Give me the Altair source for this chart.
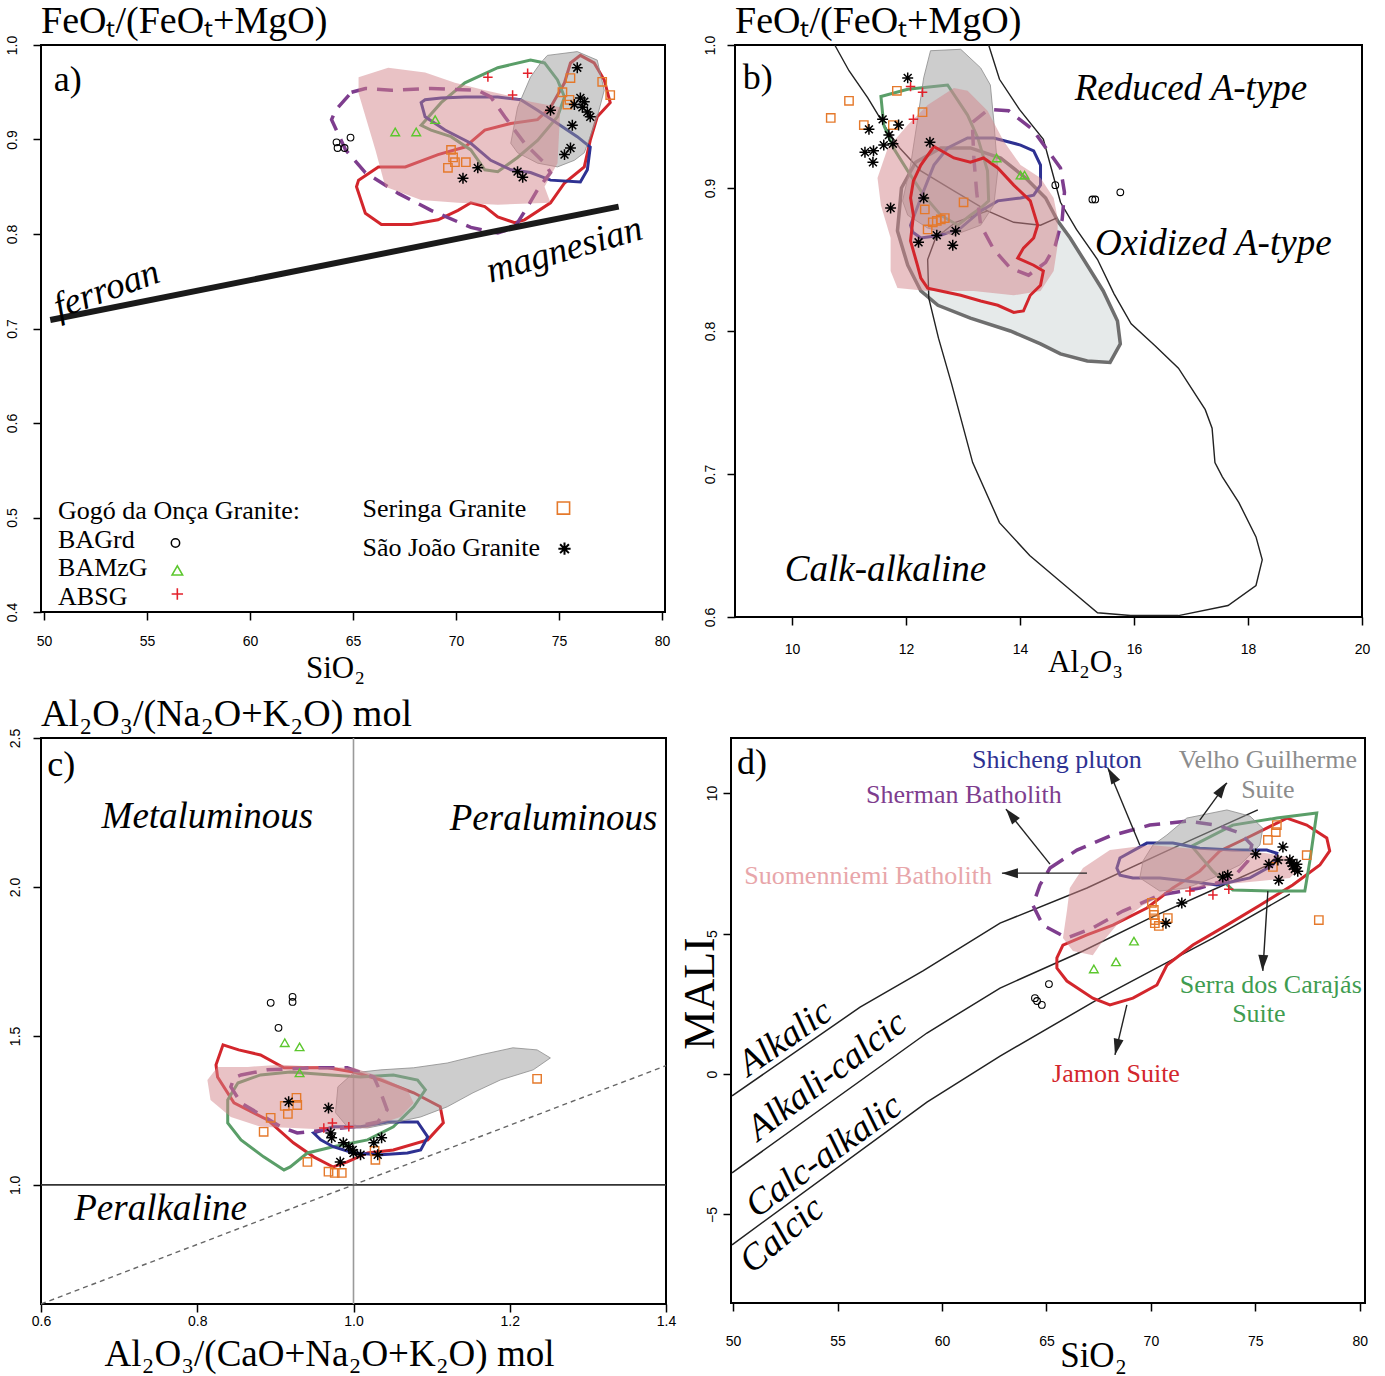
import altair as alt
import pandas as pd

SERIF = "Liberation Serif"
SANS = "Liberation Sans"

RED = "#d3262c"
GREEN = "#5a9e68"
BLUE = "#2e3192"
PURPLE = "#7e3d8e"
PINK = "#d4868c"
GRAYF = "#9c9c9c"
ORANGE = "#e5792b"
LIME = "#5cc72e"
CROSSRED = "#e3212b"

ASTER = "M0,-1L0,1M-1,0L1,0M-0.72,-0.72L0.72,0.72M-0.72,0.72L0.72,-0.72"
PLUS = "M-1,0L1,0M0,-1L0,1"
HEAD = "M0,-1L0.62,1L-0.62,1Z"

# ---------------- panel a : FeOt/(FeOt+MgO) vs SiO2 ----------------
A_PINK_X = [65.27, 66.71, 68.50, 69.95, 71.40, 72.85, 73.62, 75.07, 74.93, 74.30, 74.59, 72.03, 70.10, 68.31, 66.57, 66.09, 65.27]
A_PINK_Y = [0.966, 0.976, 0.971, 0.960, 0.952, 0.945, 0.940, 0.934, 0.875, 0.850, 0.833, 0.831, 0.833, 0.836, 0.850, 0.889, 0.949]
A_GRAY_X = [74.44, 75.89, 76.86, 77.20, 76.86, 76.52, 76.23, 75.75, 74.93, 73.96, 72.99, 72.66, 72.99, 73.62, 74.11]
A_GRAY_Y = [0.989, 0.993, 0.984, 0.952, 0.924, 0.903, 0.886, 0.878, 0.871, 0.875, 0.886, 0.896, 0.934, 0.966, 0.981]
A_RED_X = [65.27, 66.23, 67.54, 69.13, 70.43, 71.40, 72.66, 73.96, 74.59, 75.27, 75.56, 76.04, 76.71, 77.20, 77.49, 76.86,
           76.52, 76.23, 75.27, 74.59, 73.33, 72.85, 72.03, 71.40, 70.72, 70.10, 69.13, 67.83, 66.38, 65.60, 65.17]
A_RED_Y = [0.857, 0.871, 0.871, 0.884, 0.892, 0.910, 0.917, 0.921, 0.934, 0.960, 0.981, 0.989, 0.981, 0.963, 0.939, 0.924,
           0.899, 0.871, 0.854, 0.833, 0.815, 0.812, 0.818, 0.829, 0.833, 0.825, 0.815, 0.810, 0.810, 0.822, 0.850]
A_GREEN_X = [68.31, 69.28, 70.43, 72.03, 73.62, 74.30, 74.93, 75.27, 74.93, 73.96, 72.99, 72.03, 71.40, 70.72, 69.76, 68.79]
A_GREEN_Y = [0.915, 0.939, 0.960, 0.976, 0.984, 0.981, 0.963, 0.945, 0.924, 0.899, 0.881, 0.866, 0.868, 0.889, 0.903, 0.910]
A_BLUE_X = [68.31, 68.50, 69.47, 70.72, 71.69, 72.66, 73.62, 74.59, 76.04, 76.38, 76.52, 75.89, 74.93, 73.96, 73.14, 72.03, 70.43, 69.28, 68.50]
A_BLUE_Y = [0.939, 0.924, 0.910, 0.896, 0.878, 0.868, 0.865, 0.857, 0.855, 0.868, 0.892, 0.903, 0.917, 0.931, 0.942, 0.945, 0.945, 0.944, 0.942]
A_PURPLE_X = [64.93, 65.60, 66.86, 68.79, 71.06, 71.69, 72.37, 73.33, 74.30, 74.59, 73.96, 73.48, 72.85, 72.03, 70.72, 68.79, 67.20, 65.60, 64.64, 63.96, 64.15]
A_PURPLE_Y = [0.950, 0.954, 0.952, 0.954, 0.952, 0.945, 0.924, 0.896, 0.875, 0.865, 0.847, 0.829, 0.807, 0.801, 0.807, 0.825, 0.843, 0.865, 0.889, 0.921, 0.931]
A_FM_X = [50.3, 77.9]
A_FM_Y = [0.709, 0.829]
A_BAGRD_X = [64.20, 64.88, 64.59, 64.25]
A_BAGRD_Y = [0.897, 0.902, 0.891, 0.891]
A_BAMZG_X = [67.05, 68.07, 68.99]
A_BAMZG_Y = [0.908, 0.908, 0.921]
A_ABSG_X = [71.55, 73.48, 72.75]
A_ABSG_Y = [0.966, 0.970, 0.947]
A_SER_X = [69.76, 69.86, 69.95, 69.61, 70.48, 75.56, 75.17, 75.51, 75.41, 77.10, 77.49]
A_SER_Y = [0.889, 0.881, 0.876, 0.870, 0.876, 0.965, 0.950, 0.942, 0.937, 0.961, 0.947]
A_SJ_X = [75.89, 76.04, 76.23, 76.14, 76.38, 76.52, 75.75, 75.65, 75.27, 75.56, 74.59, 71.06, 70.34, 72.99, 73.24]
A_SJ_Y = [0.976, 0.944, 0.940, 0.934, 0.929, 0.924, 0.937, 0.915, 0.884, 0.891, 0.931, 0.870, 0.859, 0.866, 0.860]
A_LEG_TEXT = ["Gogó da Onça Granite:", "BAGrd", "BAMzG", "ABSG", "Seringa Granite", "São João Granite"]
A_LEG_TX = [50.68, 50.68, 50.68, 50.68, 65.46, 65.46]
A_LEG_TY = [0.507, 0.476, 0.447, 0.416, 0.509, 0.468]
A_LEG_SX = [56.38, 56.47, 56.47, 75.22, 75.27]
A_LEG_SY = [0.473, 0.444, 0.419, 0.510, 0.467]

# ---------------- panel b : FeOt/(FeOt+MgO) vs Al2O3 ----------------
B_LINE1_X = [10.75, 11.00, 11.33, 11.68, 11.89, 12.26, 12.84, 13.43, 13.89, 14.36, 14.64]
B_LINE1_Y = [1.0, 0.982, 0.963, 0.940, 0.928, 0.912, 0.898, 0.884, 0.876, 0.874, 0.879]
B_CALC_X = [13.45, 13.64, 13.99, 14.41, 14.52, 14.71, 14.99, 15.36, 15.65, 15.95, 16.36, 16.78, 17.25, 17.37, 17.42, 17.55, 17.84, 18.14,
            18.25, 18.14, 17.65, 16.78, 15.94, 15.36, 14.88, 14.17, 13.64, 13.17, 12.80, 12.57, 12.40, 12.38, 12.52, 12.87, 13.43]
B_CALC_Y = [1.0, 0.976, 0.955, 0.934, 0.918, 0.890, 0.871, 0.850, 0.826, 0.805, 0.790, 0.774, 0.745, 0.732, 0.708, 0.698, 0.680, 0.656,
            0.640, 0.622, 0.608, 0.601, 0.601, 0.603, 0.619, 0.643, 0.666, 0.708, 0.763, 0.795, 0.823, 0.850, 0.865, 0.876, 0.884]
B_LGRAY_X = [11.92, 12.17, 12.61, 13.13, 13.66, 14.10, 14.45, 14.66, 14.88, 15.18, 15.46, 15.71, 15.76, 15.58, 15.18, 14.71, 14.36, 13.83, 13.13, 12.56, 12.26, 12.03, 11.85]
B_LGRAY_Y = [0.900, 0.918, 0.928, 0.928, 0.921, 0.907, 0.893, 0.877, 0.865, 0.846, 0.828, 0.807, 0.791, 0.778, 0.779, 0.784, 0.791, 0.800, 0.809, 0.818, 0.828, 0.846, 0.870]
B_DGRAY_X = [12.43, 12.96, 13.31, 13.48, 13.54, 13.61, 13.54, 13.31, 12.84, 12.38, 12.03, 11.94, 12.08, 12.20, 12.31]
B_DGRAY_Y = [0.996, 0.997, 0.984, 0.972, 0.947, 0.912, 0.888, 0.874, 0.867, 0.872, 0.881, 0.891, 0.916, 0.947, 0.977]
B_PINK_X = [11.50, 11.68, 12.03, 12.38, 12.84, 13.08, 13.43, 13.71, 14.01, 14.36, 14.59, 14.66, 14.66, 14.59, 14.36, 13.89, 13.19, 12.38, 11.85, 11.73, 11.73, 11.56]
B_PINK_Y = [0.907, 0.928, 0.944, 0.958, 0.970, 0.968, 0.954, 0.933, 0.916, 0.907, 0.893, 0.879, 0.860, 0.842, 0.828, 0.825, 0.828, 0.828, 0.830, 0.842, 0.865, 0.888]
B_RED_X = [12.49, 12.84, 13.13, 13.36, 13.61, 13.89, 14.18, 14.31, 14.24, 14.06, 13.96, 14.24, 14.41, 14.36, 14.18, 14.06, 13.89, 13.61, 13.31,
           12.96, 12.61, 12.38, 12.26, 12.20, 12.08, 12.13, 12.08, 12.13, 12.26]
B_RED_Y = [0.929, 0.921, 0.918, 0.921, 0.914, 0.902, 0.891, 0.874, 0.865, 0.858, 0.851, 0.846, 0.842, 0.832, 0.825, 0.814, 0.813, 0.818, 0.821,
           0.825, 0.828, 0.830, 0.837, 0.846, 0.863, 0.881, 0.893, 0.905, 0.916]
B_GREEN_X = [11.56, 12.03, 12.73, 13.08, 13.26, 13.43, 13.45, 13.31, 13.13, 12.91, 12.61, 12.31, 12.03, 11.78, 11.61]
B_GREEN_Y = [0.964, 0.969, 0.972, 0.951, 0.935, 0.912, 0.891, 0.886, 0.881, 0.874, 0.881, 0.895, 0.912, 0.928, 0.944]
B_BLUE_X = [12.08, 12.26, 12.49, 12.73, 13.08, 13.54, 14.01, 14.24, 14.36, 14.36, 14.24, 14.01, 13.61, 13.31, 12.96, 12.61, 12.26, 12.12]
B_BLUE_Y = [0.874, 0.893, 0.916, 0.928, 0.935, 0.935, 0.930, 0.926, 0.916, 0.902, 0.895, 0.893, 0.891, 0.884, 0.872, 0.867, 0.865, 0.869]
B_PURPLE_X = [13.17, 13.45, 13.80, 14.22, 14.71, 14.78, 14.74, 14.62, 14.45, 14.15, 13.83, 13.54, 13.31, 13.24, 13.19, 13.17]
B_PURPLE_Y = [0.946, 0.955, 0.954, 0.941, 0.914, 0.897, 0.878, 0.860, 0.848, 0.839, 0.844, 0.857, 0.874, 0.897, 0.921, 0.939]
B_BAGRD_X = [14.62, 15.27, 15.32, 15.76]
B_BAGRD_Y = [0.902, 0.892, 0.892, 0.897]
B_BAMZG_X = [13.59, 14.01, 14.08]
B_BAMZG_Y = [0.921, 0.909, 0.909]
B_ABSG_X = [12.08, 12.29, 12.13]
B_ABSG_Y = [0.971, 0.967, 0.948]
B_SER_X = [10.68, 11.00, 11.26, 11.77, 11.84, 12.29, 13.01, 12.33, 12.38, 12.47, 12.54, 12.61, 12.68]
B_SER_Y = [0.949, 0.961, 0.944, 0.944, 0.968, 0.953, 0.890, 0.885, 0.871, 0.876, 0.877, 0.878, 0.879]
B_SJ_X = [12.03, 11.59, 11.87, 11.35, 11.70, 11.61, 11.77, 11.28, 11.43, 11.42, 12.42, 11.73, 12.31, 12.54, 12.22, 12.87, 12.82]
B_SJ_Y = [0.977, 0.948, 0.944, 0.941, 0.937, 0.930, 0.931, 0.925, 0.926, 0.918, 0.932, 0.886, 0.893, 0.867, 0.862, 0.870, 0.860]
B_TEXT = ["Reduced A-type", "Oxidized A-type", "Calk-alkaline"]
B_TX = [17.0, 17.39, 11.64]
B_TY = [0.969, 0.861, 0.633]

# ---------------- panel c : A/NK vs A/CNK ----------------
C_GRAY_X = [0.980, 1.000, 1.035, 1.077, 1.120, 1.162, 1.204, 1.235, 1.252, 1.230, 1.188, 1.153, 1.120, 1.086, 1.051, 1.018, 0.992, 0.977]
C_GRAY_Y = [1.329, 1.376, 1.386, 1.393, 1.409, 1.436, 1.460, 1.453, 1.426, 1.386, 1.352, 1.309, 1.262, 1.228, 1.208, 1.191, 1.195, 1.242]
C_PINK_X = [0.813, 0.826, 0.865, 0.907, 0.958, 1.000, 1.035, 1.069, 1.077, 1.060, 1.018, 0.971, 0.923, 0.881, 0.843, 0.817]
C_PINK_Y = [1.352, 1.396, 1.396, 1.403, 1.396, 1.393, 1.362, 1.319, 1.275, 1.228, 1.191, 1.185, 1.191, 1.195, 1.228, 1.285]
C_RED_X = [0.833, 0.853, 0.881, 0.911, 0.967, 1.000, 1.035, 1.077, 1.111, 1.115, 1.095, 1.051, 1.018, 0.992, 0.974, 0.949, 0.923, 0.890, 0.847, 0.826, 0.824]
C_RED_Y = [1.470, 1.453, 1.436, 1.393, 1.393, 1.379, 1.352, 1.309, 1.262, 1.208, 1.151, 1.117, 1.107, 1.077, 1.060, 1.094, 1.141, 1.218, 1.275, 1.362, 1.403]
C_GREEN_X = [0.852, 0.881, 0.919, 0.971, 1.009, 1.051, 1.082, 1.092, 1.077, 1.051, 1.018, 0.974, 0.941, 0.919, 0.911, 0.885, 0.856, 0.839, 0.839]
C_GREEN_Y = [1.342, 1.369, 1.379, 1.369, 1.362, 1.369, 1.352, 1.319, 1.262, 1.195, 1.151, 1.128, 1.107, 1.060, 1.050, 1.094, 1.151, 1.208, 1.285]
C_BLUE_X = [0.949, 0.974, 1.009, 1.043, 1.082, 1.095, 1.086, 1.069, 1.035, 1.000, 0.974, 0.958]
C_BLUE_Y = [1.174, 1.195, 1.195, 1.211, 1.211, 1.161, 1.117, 1.107, 1.101, 1.107, 1.128, 1.151]
C_PURPLE_X = [0.856, 0.890, 0.949, 0.992, 1.026, 1.035, 1.043, 1.031, 1.000, 0.967, 0.928, 0.907, 0.877, 0.856, 0.843, 0.847]
C_PURPLE_Y = [1.369, 1.386, 1.393, 1.393, 1.362, 1.309, 1.252, 1.211, 1.195, 1.185, 1.174, 1.195, 1.242, 1.275, 1.329, 1.359]
C_BAGRD_X = [0.894, 0.922, 0.922, 0.904]
C_BAGRD_Y = [1.611, 1.631, 1.614, 1.527]
C_BAMZG_X = [0.912, 0.931, 0.931]
C_BAMZG_Y = [1.477, 1.463, 1.376]
C_ABSG_X = [0.962, 0.973, 0.994]
C_ABSG_Y = [1.191, 1.208, 1.195]
C_SER_X = [0.927, 0.928, 0.912, 0.916, 0.894, 0.885, 0.941, 0.968, 0.976, 0.985, 1.027, 1.028, 1.235]
C_SER_Y = [1.292, 1.268, 1.265, 1.238, 1.225, 1.178, 1.077, 1.044, 1.040, 1.040, 1.114, 1.084, 1.356]
C_SJ_X = [0.917, 0.968, 0.971, 0.972, 0.987, 0.994, 0.999, 1.000, 1.009, 0.983, 1.026, 1.036, 1.031]
C_SJ_Y = [1.279, 1.258, 1.174, 1.158, 1.141, 1.128, 1.117, 1.107, 1.101, 1.077, 1.141, 1.158, 1.101]
C_DIAG_X = [0.6, 1.4]
C_DIAG_Y = [0.6, 1.4]
C_TEXT = ["Metaluminous", "Peraluminous", "Peralkaline"]
C_TX = [0.813, 1.256, 0.753]
C_TY = [2.235, 2.228, 0.919]

# ---------------- panel d : MALI vs SiO2 ----------------
D_L1_X = [49.95, 56.08, 59.09, 62.78, 66.94, 70.77, 75.12]
D_L1_Y = [-0.78, 2.38, 3.67, 5.37, 6.62, 7.94, 9.40]
D_L2_X = [49.95, 59.28, 62.78, 66.75, 69.95, 73.92, 76.03]
D_L2_Y = [-3.52, 1.46, 3.06, 4.38, 5.55, 6.87, 7.58]
D_L3_X = [49.95, 59.28, 62.78, 67.56, 72.97, 76.65]
D_L3_Y = [-6.08, -1.00, 0.64, 2.70, 4.84, 6.40]
D_GRAY_X = [70.77, 71.72, 73.64, 74.74, 75.36, 75.22, 74.26, 72.97, 71.72, 70.43, 69.47, 69.62, 70.10]
D_GRAY_Y = [8.51, 9.11, 9.40, 9.18, 8.75, 8.15, 7.44, 6.98, 6.62, 6.51, 6.98, 7.58, 8.15]
D_PINK_X = [66.12, 66.75, 68.04, 69.95, 71.72, 73.92, 75.55, 76.79, 77.13, 76.65, 75.22, 73.16, 71.05, 69.62, 68.37, 67.56, 67.22, 66.27, 65.79, 65.98]
D_PINK_Y = [6.62, 7.33, 7.97, 8.15, 8.04, 7.97, 7.86, 7.69, 7.33, 6.98, 6.87, 6.73, 6.51, 6.01, 5.30, 4.59, 4.23, 4.38, 4.84, 5.80]
D_RED_X = [65.50, 65.79, 66.94, 68.18, 69.81, 71.05, 72.34, 73.30, 74.59, 75.84, 76.51, 77.46, 78.42, 78.56, 78.09, 76.79, 75.22,
           73.64, 72.01, 70.77, 70.29, 69.14, 68.04, 67.22, 65.98, 65.50]
D_RED_Y = [4.13, 4.59, 4.95, 5.30, 5.91, 6.62, 7.22, 7.94, 8.40, 8.86, 9.11, 8.86, 8.40, 7.94, 7.44, 6.73, 6.01,
           5.30, 4.59, 3.88, 3.17, 2.70, 2.46, 2.70, 3.31, 3.77]
D_GREEN_X = [71.96, 73.92, 76.03, 77.94, 77.61, 77.37, 75.69, 73.92, 72.97]
D_GREEN_Y = [8.11, 8.86, 9.11, 9.29, 7.58, 6.51, 6.51, 6.55, 7.22]
D_BLUE_X = [68.37, 68.52, 69.81, 71.05, 72.34, 73.92, 75.55, 76.03, 75.84, 74.74, 73.16, 71.72, 70.43, 69.14, 68.52]
D_BLUE_Y = [7.33, 7.69, 8.22, 8.22, 8.04, 7.97, 7.97, 7.86, 7.44, 6.98, 6.73, 6.87, 6.98, 6.98, 7.08]
D_PURPLE_X = [65.17, 66.46, 68.04, 69.95, 71.72, 73.16, 74.26, 74.83, 74.64, 73.92, 72.34, 70.43, 68.66, 67.22, 65.98, 64.83, 64.35, 64.69]
D_PURPLE_Y = [7.33, 7.97, 8.47, 8.86, 9.00, 8.86, 8.58, 8.15, 7.58, 6.98, 6.62, 6.37, 5.80, 5.20, 4.84, 5.30, 6.01, 6.73]
D_BAGRD_X = [65.12, 64.45, 64.55, 64.78]
D_BAGRD_Y = [3.20, 2.70, 2.60, 2.46]
D_BAMZG_X = [67.27, 68.33, 69.19]
D_BAMZG_Y = [3.74, 3.99, 4.73]
D_ABSG_X = [71.87, 72.97, 73.73]
D_ABSG_Y = [6.51, 6.37, 6.58]
D_SER_X = [70.05, 70.14, 70.14, 70.19, 70.19, 70.38, 70.81, 76.03, 75.98, 75.60, 75.84, 77.46, 78.04]
D_SER_Y = [6.09, 5.84, 5.66, 5.48, 5.37, 5.27, 5.55, 8.86, 8.61, 8.33, 7.37, 7.79, 5.48]
D_SJ_X = [70.72, 71.48, 73.44, 73.68, 75.02, 76.32, 76.08, 75.65, 76.65, 76.79, 76.89, 76.99, 76.75, 77.03, 76.12]
D_SJ_Y = [5.37, 6.09, 7.01, 7.08, 7.83, 8.08, 7.62, 7.47, 7.62, 7.40, 7.30, 7.47, 7.51, 7.22, 6.90]
D_ARROW_X = [69.47, 72.34, 65.17, 66.94, 75.60, 68.85]
D_ARROW_Y = [8.15, 9.04, 7.47, 7.15, 6.51, 2.46]
D_ARROW_X2 = [67.94, 73.64, 63.06, 62.87, 75.36, 68.28]
D_ARROW_Y2 = [10.89, 10.36, 9.43, 7.15, 3.67, 0.68]
D_HEAD_X = [68.13, 73.40, 63.30, 63.25, 75.36, 68.37]
D_HEAD_Y = [10.64, 10.14, 9.22, 7.15, 3.95, 0.96]
D_HEAD_ANGLE = [331, 34, 321, 270, 183, 193]
D_NAMES = ["Shicheng pluton", "Velho Guilherme", "Suite", "Sherman Batholith", "Suomenniemi Batholith",
           "Serra dos Carajás", "Suite", "Jamon Suite"]
D_NAME_X = [65.50, 75.60, 75.60, 61.05, 56.46, 75.74, 75.17, 68.33]
D_NAME_Y = [11.17, 11.17, 10.11, 9.93, 7.05, 3.17, 2.14, 0.0]
D_NAME_COLOR = [BLUE, "#8c8c8c", "#8c8c8c", PURPLE, "#e8a6aa", "#3f9c50", "#3f9c50", RED]
D_SERIES = ["Alkalic", "Alkali-calcic", "Calc-alkalic", "Calcic"]
D_SERIES_X = [52.49, 54.50, 54.35, 52.34]
D_SERIES_Y = [1.28, -0.07, -2.92, -5.73]
D_SERIES_ANGLE = [325, 323, 324, 320]


def tbl(xs, ys):
    return pd.DataFrame({"x": xs, "y": ys, "i": list(range(len(xs)))})


def axis_x(vals, fmt, title, tx, ty, pad, tsize=31):
    return alt.Axis(values=vals, format=fmt, title=title, titleX=tx, titleY=ty, titleAlign="center",
                    titleBaseline="middle", titleFont=SERIF, titleFontSize=tsize, titleFontWeight="normal",
                    titleColor="black", labelFont=SANS, labelFontSize=14, labelColor="black",
                    labelPadding=pad, labelFlush=False, labelOverlap=False, tickSize=8, tickWidth=1.5,
                    tickColor="black", domain=False, grid=False)


def axis_y(vals, fmt, pad, ext, title=None, tx=0, ty=0):
    kw = dict(values=vals, format=fmt, labelAngle=270, labelAlign="center", labelBaseline="bottom",
              labelFont=SANS, labelFontSize=14, labelColor="black", labelPadding=pad, labelFlush=False,
              labelOverlap=False, tickSize=8, tickWidth=1.5, tickColor="black", domain=False, grid=False,
              minExtent=ext, maxExtent=ext)
    if title:
        kw.update(title=title, titleAngle=270, titleX=tx, titleY=ty, titleAlign="center", titleBaseline="middle",
                  titleFont=SERIF, titleFontSize=44, titleFontWeight="normal", titleColor="black")
    else:
        kw["title"] = None
    return alt.Axis(**kw)


def enc(P):
    return dict(
        x=alt.X("x:Q", scale=alt.Scale(domain=P["xdom"], nice=False, zero=False), axis=P["xaxis"]),
        y=alt.Y("y:Q", scale=alt.Scale(domain=P["ydom"], nice=False, zero=False), axis=P["yaxis"]),
    )


def outline(P, xs, ys, color, width=3.0, dash=None, closed=True):
    kw = dict(color=color, strokeWidth=width, interpolate="linear-closed" if closed else "linear")
    if dash:
        kw["strokeDash"] = dash
    return alt.Chart(tbl(xs, ys)).mark_line(**kw).encode(order="i:Q", **enc(P))


def field(P, xs, ys, fill, fop, stroke=None, sw=0.0):
    kw = dict(fill=fill, fillOpacity=fop, interpolate="linear-closed")
    if stroke:
        kw.update(stroke=stroke, strokeWidth=sw)
    else:
        kw.update(strokeOpacity=0)
    return alt.Chart(tbl(xs, ys)).mark_line(**kw).encode(order="i:Q", **enc(P))


def pts(P, xs, ys, shape, color, size, sw=1.3):
    return alt.Chart(tbl(xs, ys)).mark_point(shape=shape, color=color, size=size, strokeWidth=sw,
                                             filled=False, opacity=1).encode(**enc(P))


def markers(P, bagrd, bamzg, absg, ser, sj):
    return [
        pts(P, bagrd[0], bagrd[1], "circle", "black", 45, 1.1),
        pts(P, bamzg[0], bamzg[1], "triangle-up", LIME, 75, 1.4),
        pts(P, absg[0], absg[1], PLUS, CROSSRED, 90, 1.5),
        pts(P, ser[0], ser[1], "square", ORANGE, 70, 1.4),
        pts(P, sj[0], sj[1], ASTER, "black", 120, 1.5),
    ]


def label(P, x, y, text, size, color="black", italic=False, angle=0, align="center"):
    d = pd.DataFrame({"x": [x], "y": [y], "t": [text]})
    kw = dict(font=SERIF, fontSize=size, color=color, align=align, baseline="middle")
    if italic:
        kw["fontStyle"] = "italic"
    if angle:
        kw["angle"] = angle
    return alt.Chart(d).mark_text(**kw).encode(text="t:N", **enc(P))


def panel_title(text):
    return alt.TitleParams(text=text, anchor="start", frame="group", font=SERIF, fontSize=38,
                           fontWeight="normal", color="black", offset=-6)


# ---------- panel a ----------
PA = dict(xdom=[49.85, 80.15], ydom=[0.4, 1.0],
          xaxis=axis_x([50, 55, 60, 65, 70, 75, 80], "d", "SiO₂", 294, 56, 14),
          yaxis=axis_y([0.4, 0.5, 0.6, 0.7, 0.8, 0.9, 1.0], ".1f", 14, 39))
a_layers = [
    outline(PA, A_RED_X, A_RED_Y, RED),
    outline(PA, A_GREEN_X, A_GREEN_Y, GREEN),
    outline(PA, A_BLUE_X, A_BLUE_Y, BLUE),
    outline(PA, A_PURPLE_X, A_PURPLE_Y, PURPLE, 3.5, [16, 10]),
    field(PA, A_GRAY_X, A_GRAY_Y, GRAYF, 0.5, "#8c8c8c", 0.8),
    field(PA, A_PINK_X, A_PINK_Y, PINK, 0.5),
    outline(PA, A_FM_X, A_FM_Y, "#1a1a1a", 6, closed=False),
]
a_layers += markers(PA, (A_BAGRD_X, A_BAGRD_Y), (A_BAMZG_X, A_BAMZG_Y), (A_ABSG_X, A_ABSG_Y),
                    (A_SER_X, A_SER_Y), (A_SJ_X, A_SJ_Y))
a_layers += [
    pts(PA, [A_LEG_SX[0]], [A_LEG_SY[0]], "circle", "black", 70, 1.5),
    pts(PA, [A_LEG_SX[1]], [A_LEG_SY[1]], "triangle-up", LIME, 110, 1.6),
    pts(PA, [A_LEG_SX[2]], [A_LEG_SY[2]], PLUS, CROSSRED, 130, 1.6),
    pts(PA, [A_LEG_SX[3]], [A_LEG_SY[3]], "square", ORANGE, 150, 1.6),
    pts(PA, [A_LEG_SX[4]], [A_LEG_SY[4]], ASTER, "black", 150, 2),
]
for t, x, y in zip(A_LEG_TEXT, A_LEG_TX, A_LEG_TY):
    a_layers.append(label(PA, x, y, t, 26, align="left"))
a_layers += [
    label(PA, 51.15, 0.963, "a)", 36),
    label(PA, 53.04, 0.741, "ferroan", 37, italic=True, angle=340),
    label(PA, 75.27, 0.783, "magnesian", 37, italic=True, angle=344),
]
chart_a = alt.layer(*a_layers).properties(width=624, height=567, title=panel_title("FeOₜ/(FeOₜ+MgO)"))

# ---------- panel b ----------
PB = dict(xdom=[9, 20], ydom=[0.6, 1.0],
          xaxis=axis_x([10, 12, 14, 16, 18, 20], "d", "Al₂O₃", 350, 45, 17),
          yaxis=axis_y([0.6, 0.7, 0.8, 0.9, 1.0], ".1f", 10, 39))
b_layers = [
    field(PB, B_LGRAY_X, B_LGRAY_Y, "#dde3e3", 0.75, "#6e6e6e", 3.5),
    outline(PB, B_LINE1_X, B_LINE1_Y, "#222222", 1.4, closed=False),
    outline(PB, B_CALC_X, B_CALC_Y, "#222222", 1.4, closed=False),
    outline(PB, B_GREEN_X, B_GREEN_Y, GREEN),
    outline(PB, B_BLUE_X, B_BLUE_Y, BLUE),
    outline(PB, B_PURPLE_X, B_PURPLE_Y, PURPLE, 3.5, [16, 10]),
    field(PB, B_DGRAY_X, B_DGRAY_Y, GRAYF, 0.5, "#8c8c8c", 0.8),
    field(PB, B_PINK_X, B_PINK_Y, PINK, 0.5),
    outline(PB, B_RED_X, B_RED_Y, RED),
]
b_layers += markers(PB, (B_BAGRD_X, B_BAGRD_Y), (B_BAMZG_X, B_BAMZG_Y), (B_ABSG_X, B_ABSG_Y),
                    (B_SER_X, B_SER_Y), (B_SJ_X, B_SJ_Y))
b_layers.append(label(PB, 9.40, 0.977, "b)", 36))
for t, x, y in zip(B_TEXT, B_TX, B_TY):
    b_layers.append(label(PB, x, y, t, 37, italic=True))
chart_b = alt.layer(*b_layers).properties(width=627, height=572, title=panel_title("FeOₜ/(FeOₜ+MgO)"))

# ---------- panel c ----------
PC = dict(xdom=[0.6, 1.4], ydom=[0.6, 2.5],
          xaxis=axis_x([0.6, 0.8, 1.0, 1.2, 1.4], ".1f", "Al₂O₃/(CaO+Na₂O+K₂O) mol", 288, 50, 2, 37),
          yaxis=axis_y([1.0, 1.5, 2.0, 2.5], ".1f", 11, 35))
c_layers = [
    outline(PC, [1.0, 1.0], [0.6, 2.5], "#9a9a9a", 1.6, closed=False),
    outline(PC, [0.6, 1.4], [1.0, 1.0], "#333333", 1.6, closed=False),
    outline(PC, C_DIAG_X, C_DIAG_Y, "#666666", 1.4, [5, 4], closed=False),
    outline(PC, C_RED_X, C_RED_Y, RED),
    outline(PC, C_GREEN_X, C_GREEN_Y, GREEN),
    outline(PC, C_BLUE_X, C_BLUE_Y, BLUE),
    outline(PC, C_PURPLE_X, C_PURPLE_Y, PURPLE, 3.5, [16, 10]),
    field(PC, C_GRAY_X, C_GRAY_Y, GRAYF, 0.5, "#8c8c8c", 0.8),
    field(PC, C_PINK_X, C_PINK_Y, PINK, 0.5),
]
c_layers += markers(PC, (C_BAGRD_X, C_BAGRD_Y), (C_BAMZG_X, C_BAMZG_Y), (C_ABSG_X, C_ABSG_Y),
                    (C_SER_X, C_SER_Y), (C_SJ_X, C_SJ_Y))
c_layers.append(label(PC, 0.626, 2.409, "c)", 36))
for t, x, y in zip(C_TEXT, C_TX, C_TY):
    c_layers.append(label(PC, x, y, t, 37, italic=True))
chart_c = alt.layer(*c_layers).properties(width=625, height=566, title=panel_title("Al₂O₃/(Na₂O+K₂O) mol"))

# ---------- panel d ----------
PD = dict(xdom=[49.9, 80.25], ydom=[-8.15, 11.96],
          xaxis=axis_x([50, 55, 60, 65, 70, 75, 80], "d", "SiO₂", 362, 52, 23, 35),
          yaxis=axis_y([-5, 0, 5, 10], "d", 4, 34, "MALI", -31, 255))
d_layers = [
    outline(PD, D_L1_X, D_L1_Y, "#222222", 1.5, closed=False),
    outline(PD, D_L2_X, D_L2_Y, "#222222", 1.5, closed=False),
    outline(PD, D_L3_X, D_L3_Y, "#222222", 1.5, closed=False),
    outline(PD, D_RED_X, D_RED_Y, RED),
    outline(PD, D_GREEN_X, D_GREEN_Y, GREEN),
    outline(PD, D_BLUE_X, D_BLUE_Y, BLUE),
    outline(PD, D_PURPLE_X, D_PURPLE_Y, PURPLE, 3.5, [16, 10]),
    field(PD, D_GRAY_X, D_GRAY_Y, GRAYF, 0.5, "#8c8c8c", 0.8),
    field(PD, D_PINK_X, D_PINK_Y, PINK, 0.5),
]
d_layers += markers(PD, (D_BAGRD_X, D_BAGRD_Y), (D_BAMZG_X, D_BAMZG_Y), (D_ABSG_X, D_ABSG_Y),
                    (D_SER_X, D_SER_Y), (D_SJ_X, D_SJ_Y))
arrows = pd.DataFrame({"x": D_ARROW_X, "y": D_ARROW_Y, "x2": D_ARROW_X2, "y2": D_ARROW_Y2})
d_layers.append(alt.Chart(arrows).mark_rule(color="#222222", strokeWidth=1.4).encode(
    x2="x2:Q", y2="y2:Q", **enc(PD)))
heads = pd.DataFrame({"x": D_HEAD_X, "y": D_HEAD_Y, "a": D_HEAD_ANGLE})
d_layers.append(alt.Chart(heads).mark_point(shape=HEAD, filled=True, color="#222222", size=260, opacity=1).encode(
    angle=alt.Angle("a:Q", scale=None), **enc(PD)))
for t, x, y, c in zip(D_NAMES, D_NAME_X, D_NAME_Y, D_NAME_COLOR):
    d_layers.append(label(PD, x, y, t, 26, color=c))
for t, x, y, ang in zip(D_SERIES, D_SERIES_X, D_SERIES_Y, D_SERIES_ANGLE):
    d_layers.append(label(PD, x, y, t, 37, italic=True, angle=ang))
d_layers.append(label(PD, 50.9, 11.07, "d)", 36))
chart_d = alt.layer(*d_layers).properties(width=634, height=565)

top = alt.hconcat(chart_a, chart_b, spacing=24)
bottom = alt.hconcat(chart_c, chart_d, spacing=0)
chart = alt.vconcat(top, bottom, spacing=11).properties(
    padding={"left": 1, "top": 2, "right": 5, "bottom": 2}, background="white"
).configure_view(stroke="black", strokeWidth=2)

chart.save("out.html", embed_options={"renderer": "svg", "actions": False})
